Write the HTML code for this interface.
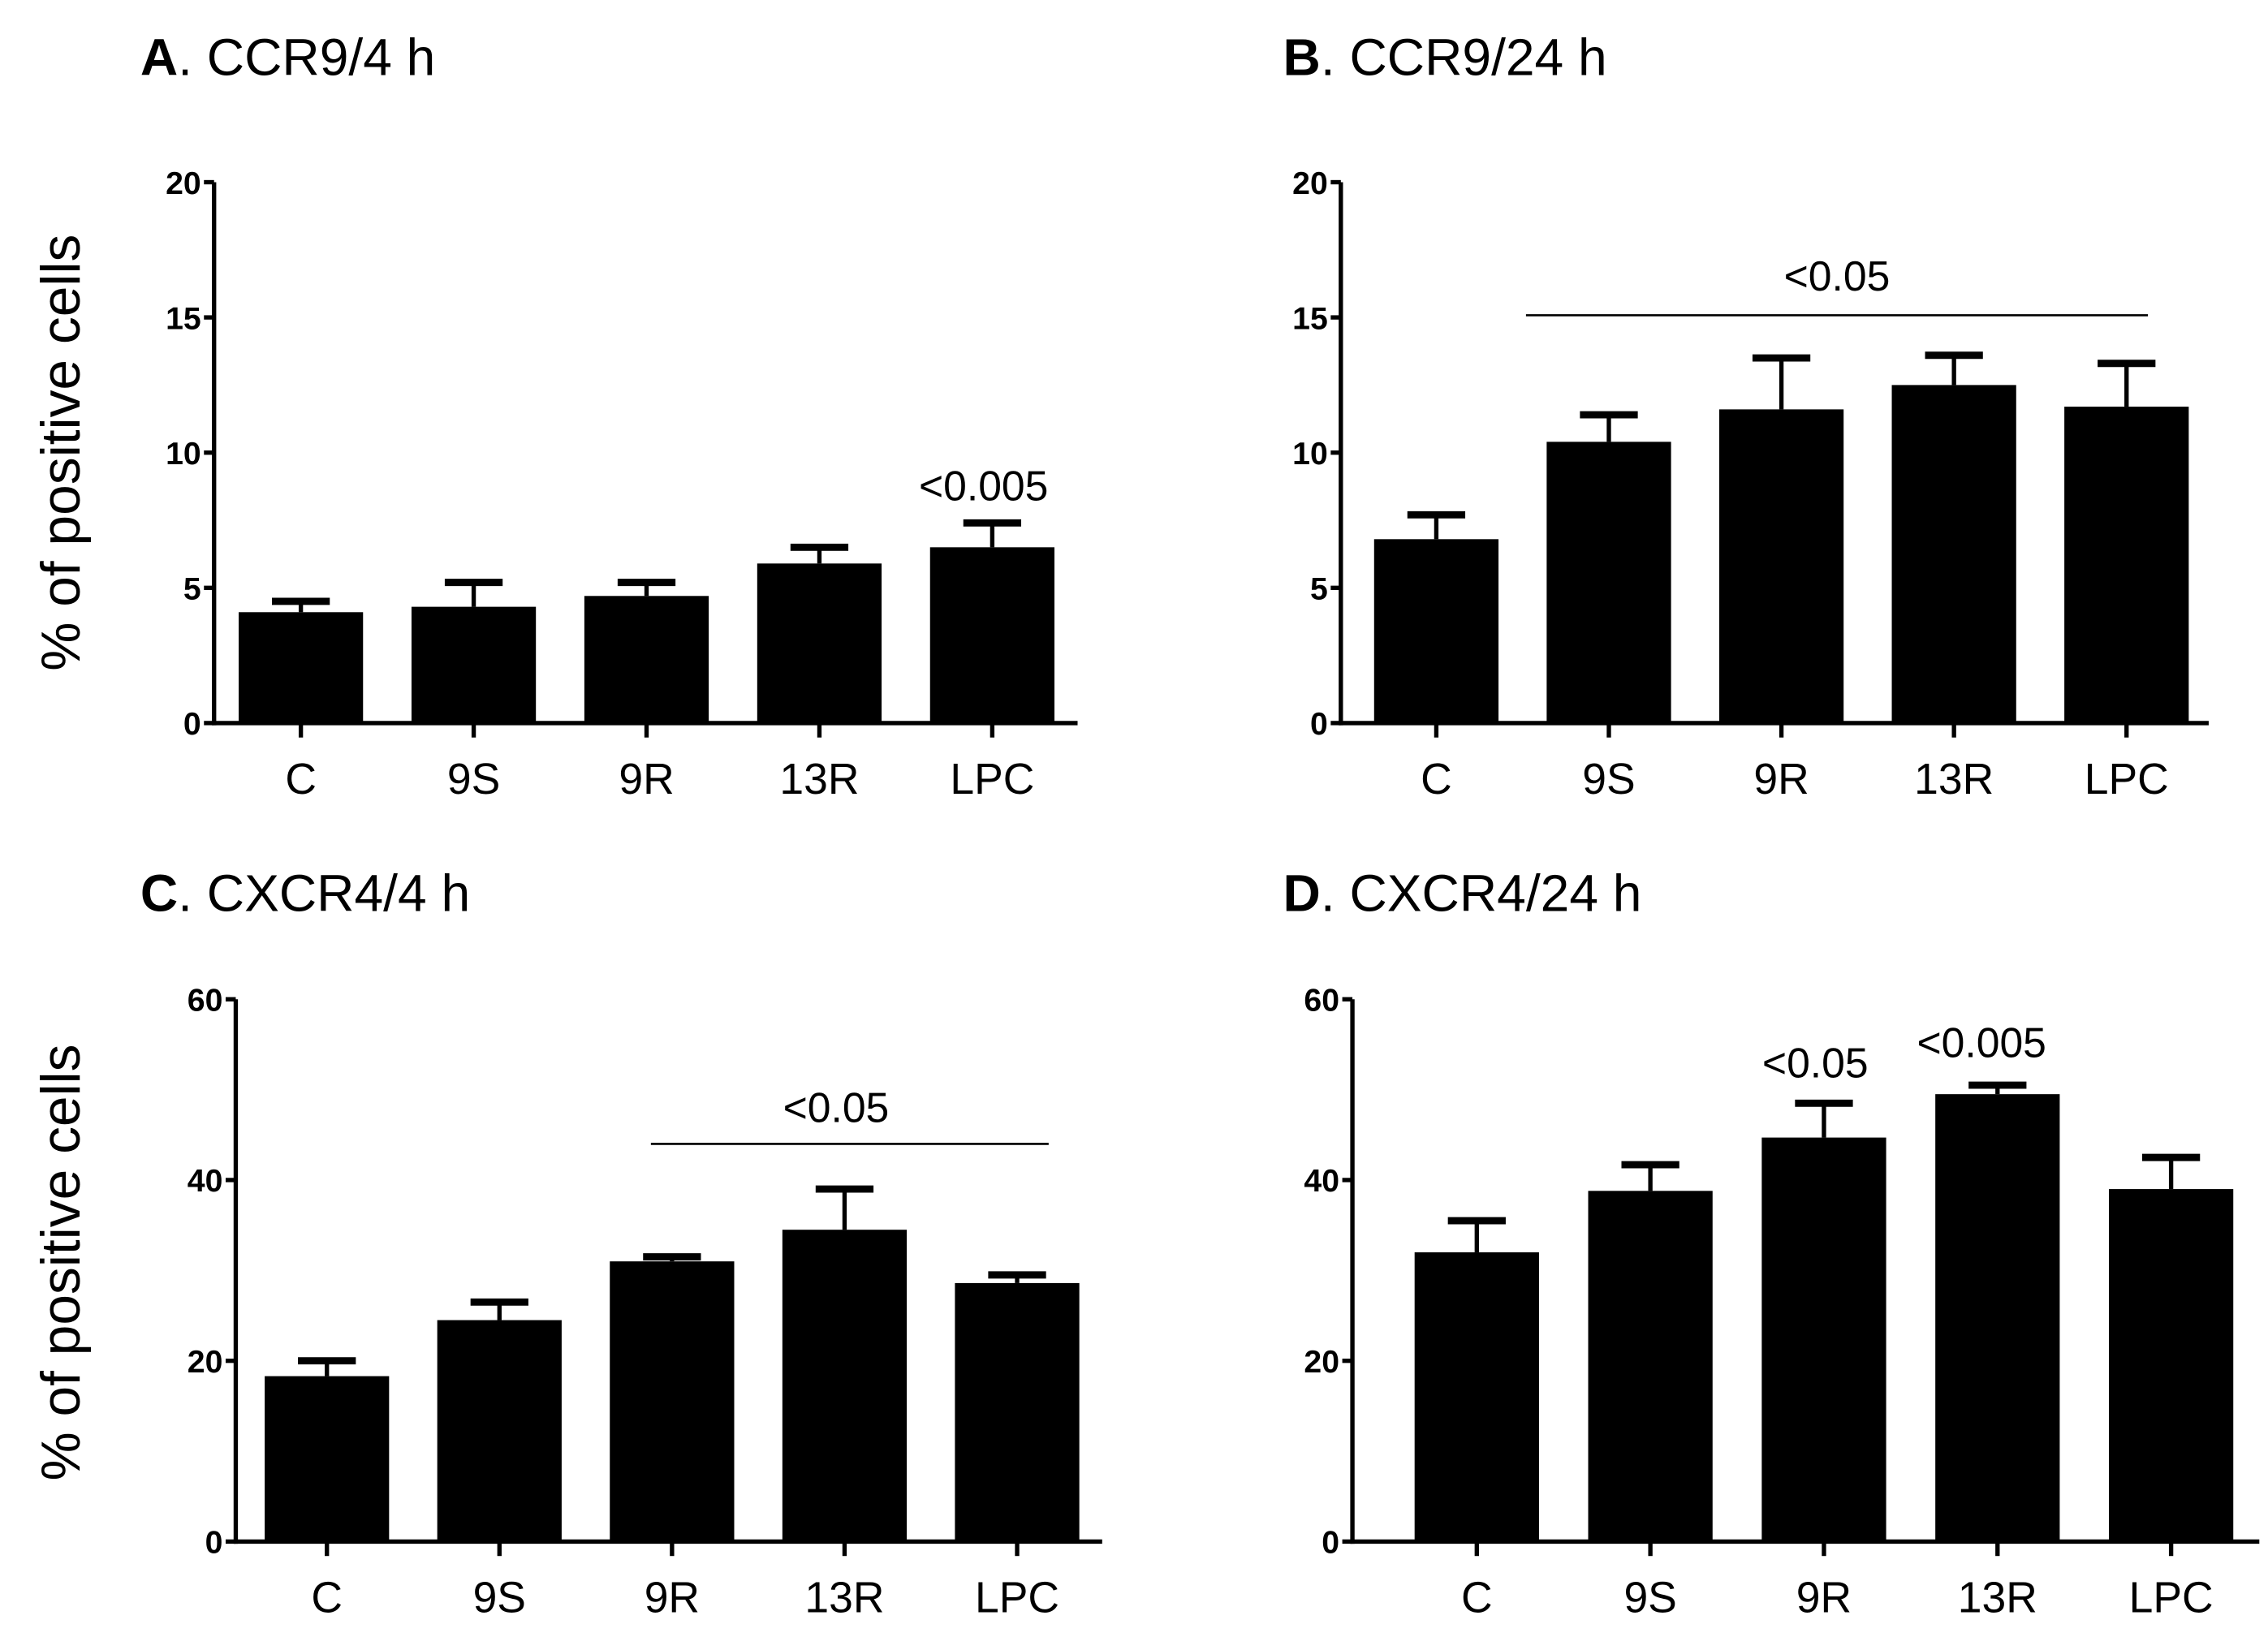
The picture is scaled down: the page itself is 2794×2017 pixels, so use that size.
<!DOCTYPE html>
<html><head><meta charset="utf-8"><style>
html,body{margin:0;padding:0;background:#fff}
svg{display:block}
text{font-family:"Liberation Sans",sans-serif;fill:#000}
.tick{font-weight:bold;font-size:22px}
.cat{font-size:30px}
.ttl{font-size:36px}
.ylab{font-size:38px}
.ann{font-size:29px}
</style></head><body>
<svg id="chart" width="2794" height="2017" viewBox="0 0 1568 1132" preserveAspectRatio="none" xmlns="http://www.w3.org/2000/svg"></svg>
<script>
const categories = ["C","9S","9R","13R","LPC"];
const valuesA = [4.1,4.3,4.7,5.9,6.5];
const errorsA = [4.5,5.2,5.2,6.5,7.4];
const valuesB = [6.8,10.4,11.6,12.5,11.7];
const errorsB = [7.7,11.4,13.5,13.6,13.3];
const valuesC = [18.3,24.5,31.0,34.5,28.6];
const errorsC = [20.0,26.5,31.5,39.0,29.5];
const valuesD = [32.0,38.8,44.7,49.5,39.0];
const errorsD = [35.5,41.7,48.5,50.5,42.5];
const ticksCCR9 = [0,5,10,15,20];
const ticksCXCR4 = [0,20,40,60];

const svg = document.getElementById('chart');
const NS = "http://www.w3.org/2000/svg";
function mk(tag, attrs, parent){
  const e = document.createElementNS(NS, tag);
  for (const k in attrs) e.setAttribute(k, attrs[k]);
  (parent||svg).appendChild(e);
  return e;
}
function txt(x,y,s,cls,anchor,parent){
  const t = mk('text',{x:x,y:y,class:cls,'text-anchor':anchor||'middle'},parent);
  t.textContent = s;
  return t;
}
const panels = [
  {id:'a', letter:'A', title:'CCR9/4 h', tx:97, ty:52, ax:148, top:126, bot:500, right:745, x0:208, dx:119.5, vals:valuesA, errs:errorsA, ticks:ticksCCR9, max:20, ylab:true, ylabY:313},
  {id:'b', letter:'B', title:'CCR9/24 h', tx:887, ty:52, ax:927, top:126, bot:500, right:1527, x0:993, dx:119.3, vals:valuesB, errs:errorsB, ticks:ticksCCR9, max:20},
  {id:'c', letter:'C', title:'CXCR4/4 h', tx:97, ty:630, ax:163, top:691, bot:1066, right:762, x0:226, dx:119.3, vals:valuesC, errs:errorsC, ticks:ticksCXCR4, max:60, ylab:true, ylabY:873},
  {id:'d', letter:'D', title:'CXCR4/24 h', tx:887, ty:630, ax:935, top:691, bot:1066, right:1562, x0:1021, dx:120, vals:valuesD, errs:errorsD, ticks:ticksCXCR4, max:60}
];
panels.forEach(p=>{
  const g = mk('g',{});
  
  
  const y = v => p.bot - (v/p.max)*(p.bot-p.top);
  const x = i => p.x0 + i*p.dx;
  const t = mk('text',{x:p.tx,y:p.ty,class:'ttl'},g);
  
  
  const b = mk('tspan',{'font-weight':'bold'},t); b.textContent = p.letter;
  const r = mk('tspan',{},t); r.textContent = '. '+p.title;
  if (p.ylab){
    const yl = txt(0,0,'% of positive cells','ylab','middle',g);
    yl.setAttribute('transform','translate(55,'+p.ylabY+') rotate(-90)');
    
    
  }
  p.vals.forEach((v,i)=>{
    const rect = mk('rect',{x:x(i)-43,y:y(v),width:86,height:p.bot-y(v),fill:'#000'},g);
    
    
    const e = p.errs[i];
    const el = mk('line',{x1:x(i),x2:x(i),y1:y(v),y2:y(e),stroke:'#000','stroke-width':3},g);
    
    
    const cap = mk('line',{x1:x(i)-20,x2:x(i)+20,y1:y(e),y2:y(e),stroke:'#000','stroke-width':5},g);
    
    
    mk('line',{x1:x(i),x2:x(i),y1:p.bot,y2:p.bot+10,stroke:'#000','stroke-width':3},g);
    const cl = txt(x(i),p.bot+49,categories[i],'cat','middle',g);
    
    
  });
  const ya = mk('line',{x1:p.ax,x2:p.ax,y1:p.top,y2:p.bot+1.5,stroke:'#000','stroke-width':3},g);
  
  
  const xa = mk('line',{x1:p.ax-1.5,x2:p.right,y1:p.bot,y2:p.bot,stroke:'#000','stroke-width':3},g);
  
  
  p.ticks.forEach(tv=>{
    mk('line',{x1:p.ax-7,x2:p.ax,y1:y(tv),y2:y(tv),stroke:'#000','stroke-width':3},g);
    const tl = txt(p.ax-9,y(tv)+8,String(tv),'tick','end',g);
    
    
  });
});
function ann(x,y,s){
  const a = txt(x,y,s,'ann','middle');
  
  
}
function bracket(x1,x2,y){
  const l = mk('line',{x1:x1,x2:x2,y1:y,y2:y,stroke:'#000','stroke-width':1.5});
  
  
}
ann(680,346,'<0.005');
bracket(1055,1485,218); ann(1270,201,'<0.05');
bracket(450,725,791); ann(578,776,'<0.05');
ann(1255,745,'<0.05'); ann(1370,731,'<0.005');
</script>
</body></html>
